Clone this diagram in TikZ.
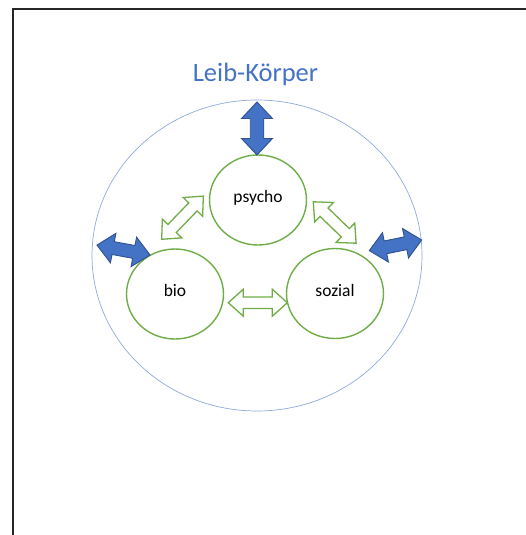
\documentclass[tikz,border=0pt]{standalone}
\usepackage{fontspec}
\setmainfont{Carlito}
\usetikzlibrary{shapes.geometric,calc}
\definecolor{bluefill}{HTML}{4472C4}
\definecolor{blueedge}{HTML}{2F528F}
\definecolor{greenedge}{HTML}{70AD47}
\definecolor{outerblue}{HTML}{8FAADC}
\tikzset{
  pics/dblarr/.style n args={4}{code={
    \draw[pic actions] (-#1/2,0) -- (-#1/2+#4,#3) -- (-#1/2+#4,#2) -- (#1/2-#4,#2)
      -- (#1/2-#4,#3) -- (#1/2,0) -- (#1/2-#4,-#3) -- (#1/2-#4,-#2)
      -- (-#1/2+#4,-#2) -- (-#1/2+#4,-#3) -- cycle;
  }},
  bluearr/.style={fill=bluefill, draw=blueedge, line width=0.9pt, line join=miter},
  greenarr/.style={fill=white, draw=greenedge, line width=1.3pt, line join=miter},
  sphere/.style={ellipse, draw=greenedge, line width=1.4pt, fill=white,
    minimum width=97pt, minimum height=90pt, inner sep=0pt,
    font=\fontsize{17.5}{20}\selectfont, text height=8pt, text depth=2.5pt},
  frameline/.style={line width=1.8pt, draw=black!85},
}
\begin{document}
\begin{tikzpicture}[x=1pt, y=-1pt]
\useasboundingbox (0,0) rectangle (525,535);
\draw[frameline] (13.2,536) -- (13.2,9.2) -- (526,9.2);
\node[ellipse, draw=outerblue, line width=0.7pt, minimum width=330pt, minimum height=311pt, inner sep=0pt] (leib) at (257,255.5) {};
\node[text=bluefill, font=\fontsize{26.5}{30}\selectfont] (title) at (255.5,74) {Leib-Körper};
\node[sphere] (psycho) at (258,200) {psycho};
\node[sphere] (bio) at (175,294) {bio};
\node[sphere] (sozial) at (335,293.5) {sozial};
% blue interaction arrows
\coordinate (topmid) at (257,128.5);
\coordinate (leftmid) at (123.5,250);
\coordinate (rightmid) at (395.5,245.3);
\pic[bluearr, rotate=90] at (topmid) {dblarr={53}{6.75}{15.5}{16.5}};
\pic[bluearr, rotate=-10.5] at (leftmid) {dblarr={54}{6.5}{15}{16.5}};
\pic[bluearr, rotate=11.5] at (rightmid) {dblarr={53.5}{6.5}{15}{16.5}};
% green arrows
\coordinate (bsmid) at (257.8,302.7);
\coordinate (bpmid) at (182.5,217.7);
\coordinate (psmid) at (334.7,222.5);
\pic[greenarr] at (bsmid) {dblarr={59}{5.8}{13.5}{15}};
\pic[greenarr, rotate=46] at (bpmid) {dblarr={60}{5.8}{13.5}{15}};
\pic[greenarr, rotate=-44] at (psmid) {dblarr={59.6}{5.8}{13.5}{15}};
\end{tikzpicture}
\end{document}
